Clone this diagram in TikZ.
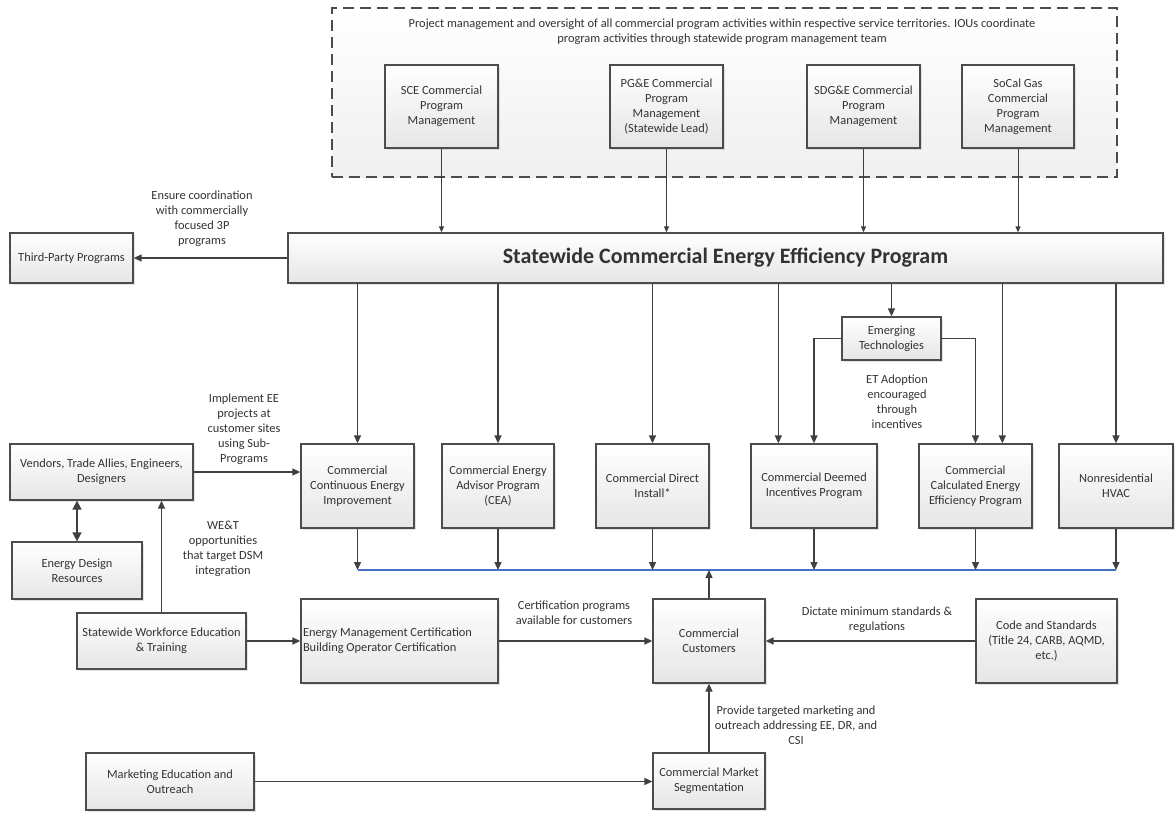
\documentclass[tikz,border=0pt]{standalone}
\usepackage{fontspec}
\setmainfont{Carlito}
\usetikzlibrary{arrows.meta,shadows,calc}
\begin{document}
\begin{tikzpicture}[x=1pt,y=-1pt,
  txt/.style={font=\fontsize{12.4}{15}\selectfont, text=black!80},
  box/.style={txt, draw=black!70, line width=1.3pt, top color=white, bottom color=black!10,
    align=center, inner sep=2pt,
    drop shadow={shadow xshift=1.6pt, shadow yshift=-1.6pt, opacity=0.22}},
  lbl/.style={txt, align=center, inner sep=0pt},
  arr/.style={draw=black!75, line width=1.4pt, -{Triangle[length=8pt,width=7pt]}},
  arrthin/.style={draw=black!75, line width=1pt, -{Triangle[length=6pt,width=5pt]}},
  dbl/.style={draw=black!75, line width=1.7pt, {Triangle[length=9pt,width=9pt]}-{Triangle[length=9pt,width=9pt]}},
  bus/.style={draw={rgb,255:red,68;green,114;blue,196}, line width=1.4pt}
]
\useasboundingbox (0,0) rectangle (1176,812);

% management container
\node[draw=black!70, line width=1.3pt, dash pattern=on 11pt off 6pt,
  top color=white, bottom color=black!6, minimum width=785pt, minimum height=169pt,
  inner sep=0pt] (mgmt) at (724.5,92.5) {};
\node[lbl] (mgmttxt) at (722,32) {Project management and oversight of all commercial program activities within respective service territories. IOUs coordinate\\program activities through statewide program management team};

\node[box, minimum width=113pt, minimum height=83pt] (sce) at (441.5,106.5) {SCE Commercial\\Program\\Management};
\node[box, minimum width=113pt, minimum height=83pt] (pge) at (666.5,106.5) {PG\&E Commercial\\Program\\Management\\(Statewide Lead)};
\node[box, minimum width=113pt, minimum height=83pt] (sdge) at (863.5,106.5) {SDG\&E Commercial\\Program\\Management};
\node[box, minimum width=112pt, minimum height=83pt] (socal) at (1018,106.5) {SoCal Gas\\Commercial\\Program\\Management};

% main program
\node[box, minimum width=875pt, minimum height=50pt, font=\bfseries\fontsize{22}{25}\selectfont] (main) at (725.5,258) {Statewide Commercial Energy Efficiency Program};
\node[box, minimum width=123pt, minimum height=50pt] (third) at (71.5,258) {Third-Party Programs};

\node[box, minimum width=99pt, minimum height=43pt] (et) at (891.5,338.5) {Emerging\\Technologies};

% sub-programs
\node[box, minimum width=113pt, minimum height=84pt] (ccei) at (357.5,486) {Commercial\\Continuous Energy\\Improvement};
\node[box, minimum width=112pt, minimum height=84pt] (cea) at (498,486) {Commercial Energy\\Advisor Program\\(CEA)};
\node[box, minimum width=113pt, minimum height=84pt] (cdi) at (652.5,486) {Commercial Direct\\Install*};
\node[box, minimum width=126pt, minimum height=84pt] (deemed) at (814,486) {Commercial Deemed\\Incentives Program};
\node[box, minimum width=113pt, minimum height=84pt] (calc) at (975.5,486) {Commercial\\Calculated Energy\\Efficiency Program};
\node[box, minimum width=114pt, minimum height=84pt] (hvac) at (1116,486) {Nonresidential\\HVAC};

% left side
\node[box, minimum width=183pt, minimum height=56pt] (vend) at (101.5,472) {Vendors, Trade Allies, Engineers,\\Designers};
\node[box, minimum width=130pt, minimum height=57pt] (edr) at (77,570.5) {Energy Design\\Resources};
\node[box, minimum width=169pt, minimum height=56pt] (wet) at (161.5,641) {Statewide Workforce Education\\\& Training};
\node[box, minimum width=197pt, minimum height=84pt, text width=193pt, align=flush left] (emc) at (399.5,641) {Energy Management Certification\\Building Operator Certification};
\node[box, minimum width=112pt, minimum height=84pt] (cust) at (709,641) {Commercial\\Customers};
\node[box, minimum width=141pt, minimum height=84pt] (code) at (1046.5,641) {Code and Standards\\(Title 24, CARB, AQMD,\\etc.)};
\node[box, minimum width=168pt, minimum height=57pt] (meo) at (170,781.5) {Marketing Education and\\Outreach};
\node[box, minimum width=112pt, minimum height=56pt] (cms) at (709,781) {Commercial Market\\Segmentation};

% labels
\node[lbl] (l3p) at (202,219) {Ensure coordination\\with commercially\\focused 3P\\programs};
\node[lbl] (let) at (897,401.5) {ET Adoption\\encouraged\\through\\incentives};
\node[lbl] (limp) at (244,429) {Implement EE\\projects at\\customer sites\\using Sub-\\Programs};
\node[lbl] (lwet) at (223,549) {WE\&T\\opportunities\\that target DSM\\integration};
\node[lbl] (lcert) at (574,612.5) {Certification programs\\available for customers};
\node[lbl] (lcode) at (877,619.5) {Dictate minimum standards \&\\regulations};
\node[lbl] (lmkt) at (796,725.5) {Provide targeted marketing and\\outreach addressing EE, DR, and\\CSI};

% bus line
\coordinate (busL) at (358,570);
\coordinate (busR) at (1116,570);
\draw[bus] (busL) -- (busR);

% manager arrows
\foreach \m in {sce,pge,sdge,socal}
  \draw[arrthin] (\m.south) -- (\m.south |- main.north);

% main to third party
\draw[arr] (main.west |- third.east) -- (third.east);

% main to sub-programs
\coordinate (dmx) at ($(deemed.north west)+(28,0)$);
\coordinate (clx) at ($(calc.north west)+(84,0)$);
\foreach \b in {ccei,cea,cdi,hvac}
  \draw[arr] (\b.north |- main.south) -- (\b.north);
\draw[arr] (dmx |- main.south) -- (dmx);
\draw[arr] (clx |- main.south) -- (clx);
\draw[arr] (et.north |- main.south) -- (et.north);

% emerging technologies branches
\draw[arr] (et.west) -| (deemed.north);
\draw[arr] (et.east) -| (calc.north);

% sub-programs to bus
\foreach \b in {ccei,cea,cdi,deemed,calc,hvac}
  \draw[arr] (\b.south) -- (\b.south |- busL);

% customers to bus
\draw[arr] (cust.north) -- (cust.north |- busL);

% left side connectors
\draw[arr] (vend.east) -- (vend.east -| ccei.west);
\draw[dbl] (edr.north) -- (edr.north |- vend.south);
\draw[arr] (wet.north) -- (wet.north |- vend.south);
\draw[arr] (wet.east) -- (emc.west);
\draw[arr] (emc.east) -- (cust.west);
\draw[arr] (code.west) -- (cust.east);
\draw[arr] (meo.east) -- (meo.east -| cms.west);
\draw[arr] (cms.north) -- (cust.south);
\end{tikzpicture}
\end{document}
